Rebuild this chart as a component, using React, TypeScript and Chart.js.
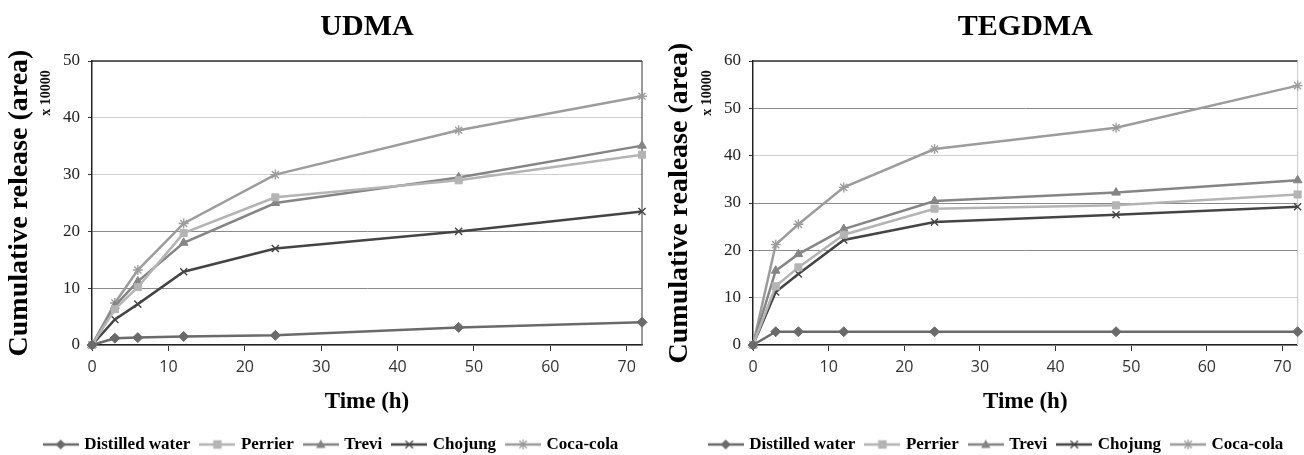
import React, { useEffect, useRef } from 'react';
import { Chart, registerables } from 'chart.js';

Chart.register(...registerables);

// ---------- data ----------
const TIMES = [0, 3, 6, 12, 24, 48, 72];
const X_TICKS = [0, 10, 20, 30, 40, 50, 60, 70];
const SERIES_NAMES = ['Distilled water', 'Perrier', 'Trevi', 'Chojung', 'Coca-cola'];

// UDMA (x 10000)
const UDMA_DISTILLED = [0, 1.2, 1.3, 1.5, 1.7, 3.1, 4.0];
const UDMA_PERRIER = [0, 6.3, 10.2, 19.7, 26.0, 29.0, 33.5];
const UDMA_TREVI = [0, 6.9, 11.2, 18.0, 25.0, 29.5, 35.1];
const UDMA_CHOJUNG = [0, 4.5, 7.2, 12.9, 17.0, 20.0, 23.5];
const UDMA_COCA = [0, 7.4, 13.2, 21.4, 30.0, 37.8, 43.8];

// TEGDMA (x 10000)
const TEGDMA_DISTILLED = [0, 2.8, 2.8, 2.8, 2.8, 2.8, 2.8];
const TEGDMA_PERRIER = [0, 12.4, 16.4, 23.3, 28.8, 29.5, 31.8];
const TEGDMA_TREVI = [0, 15.7, 19.2, 24.5, 30.4, 32.2, 34.8];
const TEGDMA_CHOJUNG = [0, 11.2, 15.0, 22.2, 26.0, 27.5, 29.2];
const TEGDMA_COCA = [0, 21.2, 25.5, 33.3, 41.4, 45.9, 54.8];

const UDMA_TICKS_MAX = 50;
const TEGDMA_TICKS_MAX = 60;

// ---------- styles ----------
const SERIF = "'Liberation Serif', 'Times New Roman', serif";
const SANS = "'Open Sans', 'DejaVu Sans', sans-serif";
const SERIES_COLORS = ['#6a6a6a', '#b4b4b4', '#858585', '#444444', '#9c9c9c'];
const SERIES_MARKERS = ['rectRot', 'rect', 'triangle', 'crossRot', 'star'];

function drawMarker(ctx: CanvasRenderingContext2D, style: string, x: number, y: number, r: number) {
  ctx.beginPath();
  if (style === 'rectRot') {
    ctx.moveTo(x, y - r);
    ctx.lineTo(x + r, y);
    ctx.lineTo(x, y + r);
    ctx.lineTo(x - r, y);
    ctx.closePath();
    ctx.fill();
  } else if (style === 'rect') {
    const s = r * 0.85;
    ctx.rect(x - s, y - s, 2 * s, 2 * s);
    ctx.fill();
  } else if (style === 'triangle') {
    ctx.moveTo(x, y - r);
    ctx.lineTo(x + r * 0.95, y + r * 0.7);
    ctx.lineTo(x - r * 0.95, y + r * 0.7);
    ctx.closePath();
    ctx.fill();
  } else if (style === 'crossRot') {
    const d = r * 0.75;
    ctx.moveTo(x - d, y - d);
    ctx.lineTo(x + d, y + d);
    ctx.moveTo(x + d, y - d);
    ctx.lineTo(x - d, y + d);
    ctx.stroke();
  } else if (style === 'star') {
    const d = r * 0.75;
    ctx.moveTo(x - d, y - d);
    ctx.lineTo(x + d, y + d);
    ctx.moveTo(x + d, y - d);
    ctx.lineTo(x - d, y + d);
    ctx.moveTo(x, y - r);
    ctx.lineTo(x, y + r);
    ctx.stroke();
  }
}

function makeLegendIcon(color: string, style: string): HTMLCanvasElement {
  const c = document.createElement('canvas');
  c.width = 36;
  c.height = 14;
  const ctx = c.getContext('2d')!;
  ctx.strokeStyle = color;
  ctx.fillStyle = color;
  ctx.lineWidth = 2.5;
  ctx.beginPath();
  ctx.moveTo(0, 7);
  ctx.lineTo(36, 7);
  ctx.stroke();
  ctx.lineWidth = 1.3;
  drawMarker(ctx, style, 18, 7, 5);
  return c;
}

const framePlugin = (rightColor: string) => ({
  id: 'frame',
  beforeDatasetsDraw(chart: any) {
    const { ctx, chartArea } = chart;
    ctx.save();
    ctx.lineWidth = 1.5;
    ctx.strokeStyle = '#333';
    ctx.beginPath();
    ctx.moveTo(chartArea.left, chartArea.top);
    ctx.lineTo(chartArea.right, chartArea.top);
    ctx.stroke();
    ctx.strokeStyle = rightColor;
    ctx.lineWidth = 1.2;
    ctx.beginPath();
    ctx.moveTo(chartArea.right, chartArea.top);
    ctx.lineTo(chartArea.right, chartArea.bottom);
    ctx.stroke();
    ctx.restore();
  },
});

const multiplierPlugin = {
  id: 'multiplier',
  afterDraw(chart: any) {
    const { ctx, chartArea } = chart;
    ctx.save();
    ctx.translate(chartArea.left - 46, chartArea.top + 32);
    ctx.rotate(-Math.PI / 2);
    ctx.fillStyle = '#111';
    ctx.font = `bold 14px ${SERIF}`;
    ctx.textAlign = 'center';
    ctx.textBaseline = 'middle';
    ctx.fillText('x 10000', 0, 0);
    ctx.restore();
  },
};

type PanelProps = {
  title: string;
  yTitle: string;
  yMax: number;
  series: number[][];
  padLeft: number;
  padRight: number;
  axisLeft: number;
  yTitleCenter: number;
  rightBorder: string;
  darkGrid: number[];
};

function Panel(props: PanelProps) {
  const ref = useRef<HTMLCanvasElement | null>(null);
  useEffect(() => {
    if (!ref.current) return;
    const icons = SERIES_NAMES.map((_, i) => makeLegendIcon(SERIES_COLORS[i], SERIES_MARKERS[i]));
    const datasets = SERIES_NAMES.map((name, i) => ({
      label: name,
      data: TIMES.map((t, j) => ({ x: t, y: props.series[i][j] })),
      borderColor: SERIES_COLORS[i],
      backgroundColor: SERIES_COLORS[i],
      pointBackgroundColor: SERIES_COLORS[i],
      pointBorderColor: SERIES_COLORS[i],
      pointStyle: SERIES_MARKERS[i],
      pointRadius: 5,
      pointBorderWidth: SERIES_MARKERS[i] === 'crossRot' || SERIES_MARKERS[i] === 'star' ? 1.4 : 1,
      borderWidth: 2.5,
      tension: 0,
      fill: false,
      clip: false as any,
    }));
    const yTitleFont = 28;
    const chart = new Chart(ref.current, {
      type: 'line',
      data: { datasets },
      plugins: [framePlugin(props.rightBorder), multiplierPlugin],
      options: {
        animation: false,
        responsive: false,
        maintainAspectRatio: false,
        layout: { padding: { left: props.padLeft, right: props.padRight, top: 0, bottom: -8 } },
        plugins: {
          tooltip: { enabled: false },
          title: {
            display: true,
            text: props.title,
            fullSize: false,
            color: '#000',
            font: { family: SERIF, size: 30, weight: 'bold' },
            padding: { top: 9, bottom: 16 },
          },
          legend: {
            position: 'bottom',
            labels: {
              usePointStyle: true,
              pointStyleWidth: 30,
              boxHeight: 12,
              padding: 12,
              color: '#000',
              font: { family: SERIF, size: 17, weight: 'bold' },
              generateLabels: (c: any) => {
                const items = (Chart.defaults.plugins.legend.labels as any).generateLabels(c);
                return items.map((it: any, i: number) => ({ ...it, pointStyle: icons[i], lineWidth: 0 }));
              },
            },
          },
        },
        scales: {
          x: {
            type: 'linear',
            min: 0,
            max: 72,
            afterBuildTicks: (s: any) => {
              s.ticks = X_TICKS.map((v) => ({ value: v }));
            },
            afterFit: (s: any) => {
              s.height = 79;
            },
            grid: { drawOnChartArea: false, drawTicks: true, tickLength: 6, color: '#333', tickColor: '#333' },
            border: { color: '#222', width: 1.5 },
            ticks: { padding: 7, color: '#333', font: { family: SANS, size: 16 } },
            title: {
              display: true,
              text: 'Time (h)',
              color: '#000',
              font: { family: SERIF, size: 23, weight: 'bold' },
              padding: { top: 0, bottom: 8 },
            },
          },
          y: {
            type: 'linear',
            min: 0,
            max: props.yMax,
            afterFit: (s: any) => {
              s.width = props.axisLeft - props.padLeft;
            },
            grid: {
              tickLength: 4,
              tickColor: '#333',
              lineWidth: 1,
              color: (ctx: any) => (props.darkGrid.includes(ctx.tick?.value) ? '#8a8a8a' : '#cfcfcf'),
            },
            border: { color: '#222', width: 1.5 },
            ticks: { stepSize: 10, padding: 8, color: '#222', font: { family: SERIF, size: 17 } },
            title: {
              display: true,
              text: props.yTitle,
              color: '#000',
              font: { family: SERIF, size: yTitleFont, weight: 'bold' },
              padding: { top: props.yTitleCenter - props.padLeft - (yTitleFont * 1.2) / 2, bottom: 0 },
            },
          },
        },
      } as any,
    });
    return () => chart.destroy();
  }, []);
  return <canvas ref={ref} width={652} height={455} style={{ display: 'block', width: 652, height: 455 }} />;
}

export default function App() {
  return (
    <div
      style={{
        position: 'absolute',
        left: 0,
        top: 0,
        width: 1304,
        height: 455,
        display: 'flex',
        background: '#fff',
        overflow: 'hidden',
      }}
    >
      <Panel
        title="UDMA"
        yTitle="Cumulative release (area)"
        yMax={UDMA_TICKS_MAX}
        series={[UDMA_DISTILLED, UDMA_PERRIER, UDMA_TREVI, UDMA_CHOJUNG, UDMA_COCA]}
        padLeft={22}
        padRight={10}
        axisLeft={92}
        yTitleCenter={20}
        rightBorder="#555"
        darkGrid={[20, 10]}
      />
      <Panel
        title="TEGDMA"
        yTitle="Cumulative realease (area)"
        yMax={TEGDMA_TICKS_MAX}
        series={[TEGDMA_DISTILLED, TEGDMA_PERRIER, TEGDMA_TREVI, TEGDMA_CHOJUNG, TEGDMA_COCA]}
        padLeft={42}
        padRight={4}
        axisLeft={101}
        yTitleCenter={28}
        rightBorder="#cfcfcf"
        darkGrid={[50, 30, 20]}
      />
    </div>
  );
}
